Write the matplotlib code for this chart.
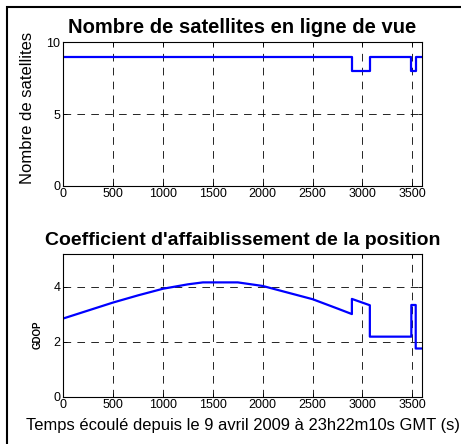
import numpy as np
import matplotlib.pyplot as plt
from matplotlib.patches import Rectangle

plt.rcParams['font.family'] = ['Liberation Sans', 'DejaVu Sans']
plt.rcParams['lines.scale_dashes'] = False

# nombre de satellites (changements d'état, style escalier)
t_sat = [0, 2894, 3074, 3490, 3534, 3590]
n_sat = [9, 8, 9, 8, 9, 9]

# GDOP au cours du temps
t_gdop = [0, 250, 500, 750, 1000, 1250, 1400, 1750, 2000, 2250, 2500, 2750,
          2894, 2894, 3074, 3074, 3490, 3490, 3534, 3534, 3590]
gdop = [2.84, 3.13, 3.42, 3.68, 3.92, 4.08, 4.15, 4.15, 4.02, 3.78, 3.54, 3.20,
        3.00, 3.55, 3.32, 2.18, 2.18, 3.33, 3.33, 1.75, 1.75]

xticks = [0, 500, 1000, 1500, 2000, 2500, 3000, 3500]
W, H = 461, 444

fig = plt.figure(figsize=(W / 100, H / 100), dpi=100)

# cadre noir autour de la figure
fig.patches.append(Rectangle((7 / W, -0.1), 1.2, 1 - 7 / H + 0.1,
                             transform=fig.transFigure, fill=False,
                             edgecolor='black', linewidth=1.5))

ax1 = fig.add_axes([63.3 / W, 1 - 185.7 / H, 358.4 / W, 143.4 / H])
ax2 = fig.add_axes([63.3 / W, 1 - 396.7 / H, 358.4 / W, 142.4 / H])

ax1.step(t_sat, n_sat, where='post', color='#0000ff', linewidth=1.6)
ax1.set_ylim(0, 10)
ax1.set_yticks([0, 5, 10])
ax1.set_title('Nombre de satellites en ligne de vue', fontsize=14.5,
              fontweight='bold', pad=6.5)
ax1.set_ylabel('Nombre de satellites', fontsize=12)
ax1.yaxis.set_label_coords(-0.079, 0.545)

ax2.plot(t_gdop, gdop, color='#0000ff', linewidth=1.6)
ax2.set_ylim(0, 5.17)
ax2.set_yticks([0, 2, 4])
ax2.set_title("Coefficient d'affaiblissement de la position", fontsize=14,
              fontweight='bold', pad=6.5)
ax2.set_ylabel('GDOP', fontsize=7, fontweight='bold')
ax2.yaxis.set_label_coords(-0.059, 0.433)
ax2.set_xlabel('Temps écoulé depuis le 9 avril 2009 à 23h22m10s GMT (s)',
               fontsize=11.9, labelpad=5)

for ax in (ax1, ax2):
    ax.set_xlim(0, 3594)
    ax.set_xticks(xticks)
    ax.grid(True, color='black', linestyle=(0, (5.5, 4.5)), linewidth=0.6)
    ax.tick_params(direction='in', top=True, right=True, length=3,
                   width=0.6, labelsize=9, pad=2)
    for s in ax.spines.values():
        s.set_linewidth(0.8)

fig.savefig('out.png', dpi=100)
